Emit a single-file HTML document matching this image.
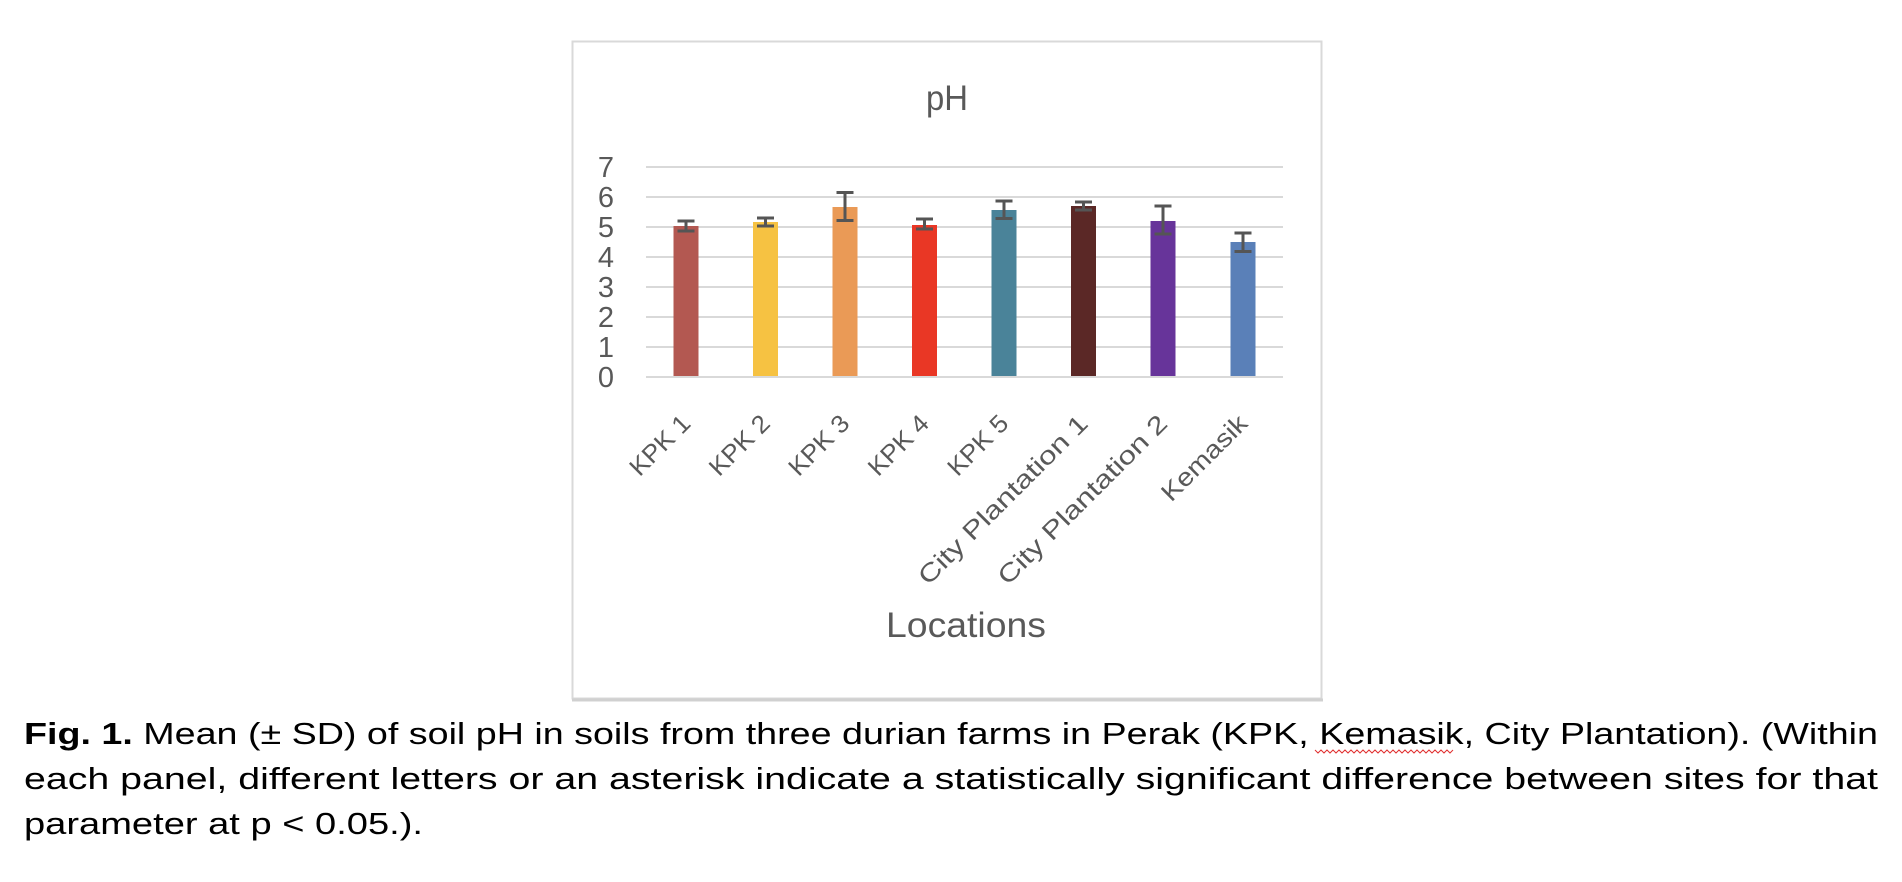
<!DOCTYPE html>
<html><head><meta charset="utf-8"><style>
html,body{margin:0;padding:0;background:#fff;}
svg{display:block;}
</style></head><body>
<svg width="1902" height="882" viewBox="0 0 1902 882" xmlns="http://www.w3.org/2000/svg" font-family="Liberation Sans, sans-serif">
<rect x="572.5" y="41.5" width="749" height="657" fill="#fff" stroke="#d9d9d9" stroke-width="2"/>
<line x1="572" y1="700" x2="1323" y2="700" stroke="#d0d0d0" stroke-width="3"/>
<text x="947" y="110" font-size="35" fill="#595959" text-anchor="middle" textLength="42" lengthAdjust="spacingAndGlyphs">pH</text>
<g stroke="#d9d9d9" stroke-width="2">
<line x1="646" x2="1283" y1="167" y2="167"/><line x1="646" x2="1283" y1="197" y2="197"/>
<line x1="646" x2="1283" y1="227" y2="227"/><line x1="646" x2="1283" y1="257" y2="257"/>
<line x1="646" x2="1283" y1="287" y2="287"/><line x1="646" x2="1283" y1="317" y2="317"/>
<line x1="646" x2="1283" y1="347" y2="347"/><line x1="646" x2="1283" y1="377" y2="377"/>
</g>
<g font-size="29" fill="#595959" text-anchor="end">
<text x="614" y="177">7</text><text x="614" y="207">6</text><text x="614" y="237">5</text>
<text x="614" y="267">4</text><text x="614" y="297">3</text><text x="614" y="327">2</text>
<text x="614" y="357">1</text><text x="614" y="387">0</text>
</g>
<rect x="673.5" y="226" width="25" height="150" fill="#b35851"/>
<rect x="753" y="222" width="25" height="154" fill="#f6c242"/>
<rect x="832.5" y="207" width="25" height="169" fill="#ea9a56"/>
<rect x="912" y="225" width="25" height="151" fill="#e93725"/>
<rect x="991.5" y="210" width="25" height="166" fill="#4a8399"/>
<rect x="1071" y="206" width="25" height="170" fill="#5b2826"/>
<rect x="1150.5" y="221" width="25" height="155" fill="#67349a"/>
<rect x="1230.5" y="242" width="25" height="134" fill="#5a80b8"/>
<g stroke="#555" stroke-width="3">
<path d="M686 221V231M677.5 221H694.5M677.5 231H694.5"/>
<path d="M765.5 218V226M757 218H774M757 226H774"/>
<path d="M845 192.5V220.5M836.5 192.5H853.5M836.5 220.5H853.5"/>
<path d="M924.5 219V229M916 219H933M916 229H933"/>
<path d="M1004 201V218.5M995.5 201H1012.5M995.5 218.5H1012.5"/>
<path d="M1083.5 202V210M1075 202H1092M1075 210H1092"/>
<path d="M1163 206V234M1154.5 206H1171.5M1154.5 234H1171.5"/>
<path d="M1243 233V251.5M1234.5 233H1251.5M1234.5 251.5H1251.5"/>
</g>
<g font-size="25" fill="#595959" text-anchor="end">
<text transform="translate(692,425) rotate(-45)" textLength="74" lengthAdjust="spacingAndGlyphs">KPK 1</text>
<text transform="translate(771.5,425) rotate(-45)" textLength="74" lengthAdjust="spacingAndGlyphs">KPK 2</text>
<text transform="translate(851,425) rotate(-45)" textLength="74" lengthAdjust="spacingAndGlyphs">KPK 3</text>
<text transform="translate(930.5,425) rotate(-45)" textLength="74" lengthAdjust="spacingAndGlyphs">KPK 4</text>
<text transform="translate(1010,425) rotate(-45)" textLength="74" lengthAdjust="spacingAndGlyphs">KPK 5</text>
<text transform="translate(1089.5,425) rotate(-45)" textLength="228" lengthAdjust="spacingAndGlyphs">City Plantation 1</text>
<text transform="translate(1169,425) rotate(-45)" textLength="228" lengthAdjust="spacingAndGlyphs">City Plantation 2</text>
<text transform="translate(1249,425) rotate(-45)" textLength="110" lengthAdjust="spacingAndGlyphs">Kemasik</text>
</g>
<text x="886" y="637" font-size="35" fill="#595959" textLength="160" lengthAdjust="spacingAndGlyphs">Locations</text>
<g font-size="31" fill="#000">
<text x="24" y="744" textLength="1854" lengthAdjust="spacingAndGlyphs"><tspan font-weight="bold">Fig. 1.</tspan> Mean (± SD) of soil pH in soils from three durian farms in Perak (KPK, Kemasik, City Plantation). (Within</text>
<text x="24" y="789" textLength="1854" lengthAdjust="spacingAndGlyphs">each panel, different letters or an asterisk indicate a statistically significant difference between sites for that</text>
<text x="24" y="834" textLength="399" lengthAdjust="spacingAndGlyphs">parameter at p &lt; 0.05.).</text>
</g>
<path d="M1315 750 l3 3 l3 -3 l3 3 l3 -3 l3 3 l3 -3 l3 3 l3 -3 l3 3 l3 -3 l3 3 l3 -3 l3 3 l3 -3 l3 3 l3 -3 l3 3 l3 -3 l3 3 l3 -3 l3 3 l3 -3 l3 3 l3 -3 l3 3 l3 -3 l3 3 l3 -3 l3 3 l3 -3 l3 3 l3 -3 l3 3 l3 -3 l3 3 l3 -3 l3 3 l3 -3 l3 3 l3 -3 l3 3 l3 -3 l3 3 l3 -3 l3 3 l3 -3" fill="none" stroke="#e03030" stroke-width="1"/>
</svg>
</body></html>
